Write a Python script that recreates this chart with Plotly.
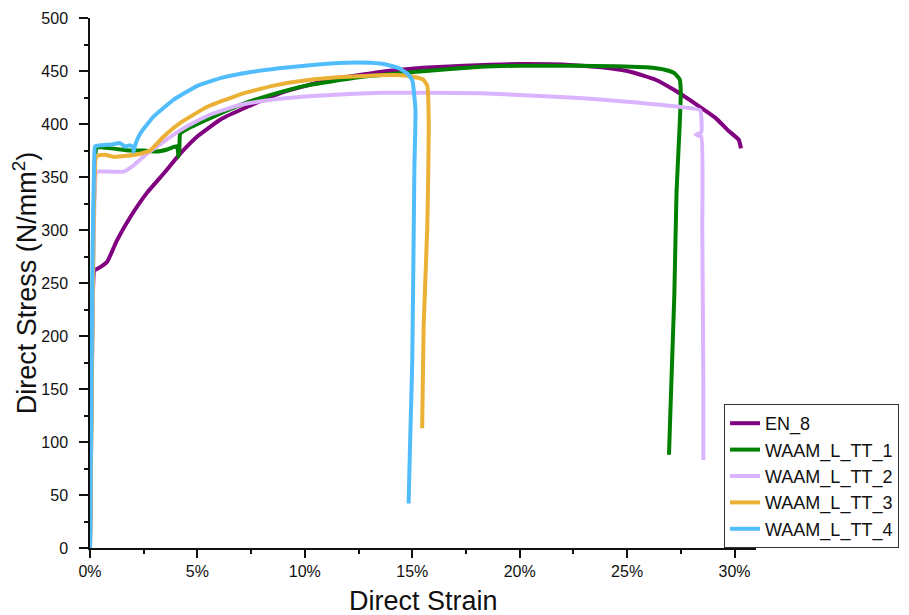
import plotly.graph_objects as go

# strain in %, stress in N/mm^2
en8_strain = [0, 0.05, 0.12, 0.2, 0.3, 0.55, 0.8, 1.25, 1.87, 2.65, 3.42, 4.2, 4.98, 6.06, 7.3, 9.0, 11.0, 13.5, 15.5, 17.4, 20.0, 22.5, 24.0, 25.2, 26.3, 27.2, 28.4, 29.1, 29.7, 30.2, 30.3]
en8_stress = [0, 120, 230, 262, 263, 266, 270, 290, 312, 335, 353, 372, 388, 404, 416, 430, 441, 449, 453, 455, 456.5, 455.5, 453, 449, 442, 432, 416, 406, 394, 385, 377]

tt1_strain = [0, 0.08, 0.16, 0.25, 0.31, 1.0, 1.87, 2.5, 3.1, 3.6, 4.05, 4.12, 4.16, 4.2, 4.5, 5.0, 5.75, 7.0, 8.5, 10.0, 12.5, 15.06, 18.2, 20.0, 22.8, 25.9, 26.8, 27.2, 27.45, 27.5, 27.45, 27.3, 27.2, 27.05, 26.95]
tt1_stress = [0, 150, 300, 372, 378, 377, 375, 375, 374, 376, 379, 369, 376, 391, 395, 400, 407, 418, 428, 436, 444, 449, 454, 455, 455, 453.5, 451, 448, 442, 429, 400, 335, 240, 150, 88]

tt2_strain = [0, 0.08, 0.16, 0.25, 0.31, 1.0, 1.56, 2.03, 2.65, 3.4, 4.2, 5.0, 5.75, 7.0, 8.5, 10.0, 13.5, 18.2, 22.8, 25.0, 27.5, 28.4, 28.45, 28.2, 28.45, 28.5, 28.55, 28.55]
tt2_stress = [0, 140, 280, 350, 355, 355, 355, 361, 372, 383, 394, 403, 410, 418, 423, 426, 429.5, 429, 424.5, 421, 416, 413, 392, 390, 388, 300, 150, 83]

tt3_strain = [0, 0.08, 0.16, 0.25, 0.31, 0.7, 1.08, 1.7, 2.33, 2.8, 3.42, 4.2, 5.44, 7.0, 8.5, 10.0, 11.5, 13.5, 14.5, 15.05, 15.5, 15.7, 15.77, 15.7, 15.53, 15.46]
tt3_stress = [0, 150, 300, 365, 370, 371, 369, 370, 372, 375, 388, 401, 416, 428, 436, 441, 444, 446, 446, 444.6, 442, 436, 397, 303, 209, 113]

tt4_strain = [0, 0.06, 0.12, 0.2, 0.24, 0.6, 1.1, 1.4, 1.64, 1.87, 2.0, 2.03, 2.1, 2.34, 2.96, 3.9, 5.0, 6.2, 7.5, 8.8, 10.0, 11.2, 12.5, 13.5, 14.0, 14.4, 14.8, 15.0, 15.15, 15.1, 15.07, 15.0, 14.9, 14.83]
tt4_stress = [0, 140, 280, 370, 379, 380, 381, 382, 378.6, 380, 378, 374, 380, 391, 407, 423, 436, 444, 449, 452.5, 455, 457, 458, 457, 455, 452.5, 447, 441.5, 413, 360, 303, 177, 100, 42]

names = ["EN_8", "WAAM_L_TT_1", "WAAM_L_TT_2", "WAAM_L_TT_3", "WAAM_L_TT_4"]
colors = ["#800080", "#008000", "#DAB4FF", "#EBB036", "#52BDFC"]
xs = [en8_strain, tt1_strain, tt2_strain, tt3_strain, tt4_strain]
ys = [en8_stress, tt1_stress, tt2_stress, tt3_stress, tt4_stress]

fig = go.Figure()
for n, c, x, y in zip(names, colors, xs, ys):
    fig.add_trace(go.Scatter(x=[v / 100 for v in x], y=y, mode="lines", name=n,
                             line=dict(color=c, width=4, shape="spline", smoothing=0.4)))

font_family = "Liberation Sans, Arial, sans-serif"
# page has an 8px body margin, so the figure is 901x607 placed at (8, 8)
fig.update_layout(
    width=901, height=607,
    margin=dict(l=82, r=153, t=10, b=67, autoexpand=False),
    plot_bgcolor="white", paper_bgcolor="white",
    font=dict(family=font_family, color="#111"),
    showlegend=True,
    legend=dict(x=0.952, y=0.2717, xanchor="left", yanchor="top",
                bgcolor="white", bordercolor="#333", borderwidth=1,
                font=dict(size=18, color="#111"), tracegroupgap=0),
)
# x-axis title as an annotation so it can sit as low as in the original
fig.add_annotation(text="Direct Strain", xref="paper", yref="paper", x=0.5, y=0,
                   xanchor="center", yanchor="top", yshift=-36, showarrow=False,
                   font=dict(size=27, color="#111"))
fig.update_xaxes(range=[0, 0.31], tickformat=".0%", tickvals=[0, 0.05, 0.1, 0.15, 0.2, 0.25, 0.3],
                 automargin=False,
                 showline=True, linecolor="#111", linewidth=1.5, showgrid=False, zeroline=False,
                 ticks="outside", ticklen=8, tickcolor="#111", tickwidth=1.5,
                 minor=dict(ticks="outside", ticklen=4, tickcolor="#111", dtick=0.025, tick0=0),
                 tickfont=dict(size=16), ticklabelstandoff=0)
fig.update_yaxes(range=[0, 500], dtick=50,
                 automargin=False,
                 showline=True, linecolor="#111", linewidth=1.5, showgrid=False, zeroline=False,
                 ticks="outside", ticklen=9, tickcolor="#111", tickwidth=1.5,
                 minor=dict(ticks="outside", ticklen=4, tickcolor="#111", dtick=25, tick0=0),
                 tickfont=dict(size=16), ticklabelstandoff=8,
                 title=dict(text="Direct Stress (N/mm<sup>2</sup>)", font=dict(size=27), standoff=14))

fig.write_html("out.html")
